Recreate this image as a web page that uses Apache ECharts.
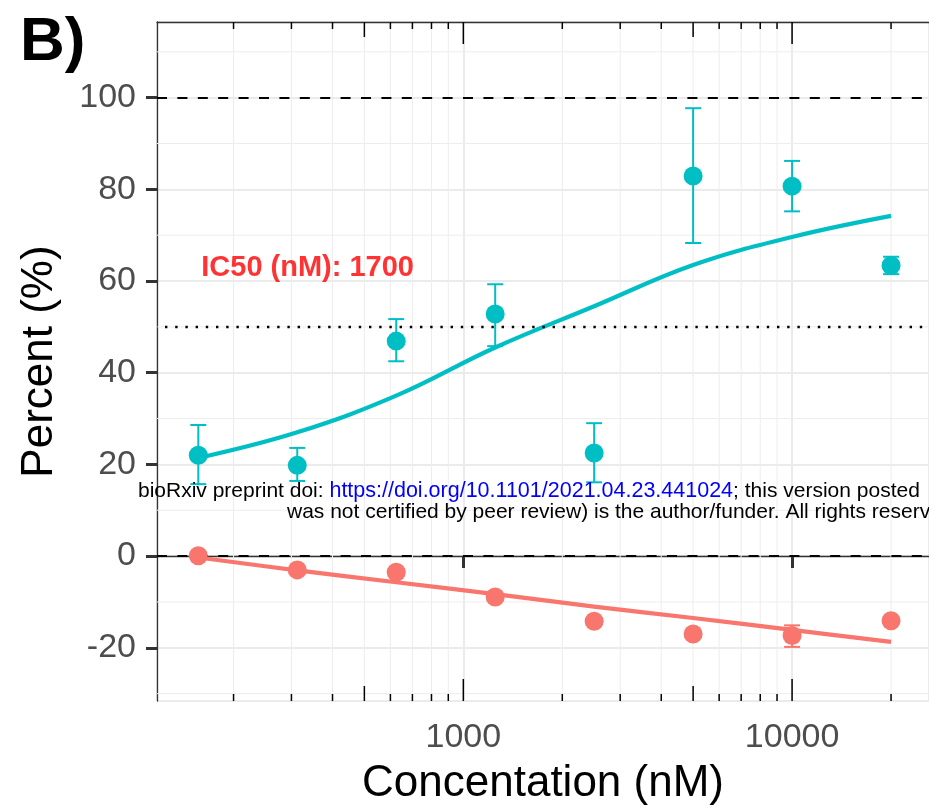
<!DOCTYPE html>
<html>
<head>
<meta charset="utf-8">
<script src="https://cdn.jsdelivr.net/npm/echarts@6/dist/echarts.min.js"></script>
<style>
  html, body { margin: 0; padding: 0; background: #fff; }
  #chart { width: 929px; height: 811px; }
</style>
</head>
<body>
<div id="chart"></div>
<script>
// concentrations (nM)
const concentrations = [156.25, 312.5, 625, 1250, 2500, 5000, 10000, 20000]

// cyan series (mean, error bar low/high, fitted curve)
const cyanMean = [22.0, 19.8, 46.9, 52.8, 22.5, 82.9, 80.7, 63.4]
const cyanLow = [15.7, 16.4, 42.5, 45.8, 16.1, 68.3, 75.2, 61.5]
const cyanHigh = [28.6, 23.6, 51.7, 59.3, 29.0, 97.7, 86.2, 65.3]
const cyanFit = [21.4, 27.0, 35.0, 45.5, 54.5, 63.5, 69.6, 74.2]

// red series
const redMean = [0.1, -3.0, -3.5, -8.9, -14.2, -17.0, -17.3, -14.1]
const redLow = [-0.6, -3.6, -4.2, -9.6, -14.9, -17.6, -19.8, -14.8]
const redHigh = [0.8, -2.4, -2.8, -8.2, -13.5, -16.4, -15.1, -13.4]
const redFit = [-0.3, -3.1, -5.7, -8.3, -11.0, -13.5, -16.1, -18.7]

// axis helpers
const xLabels = [1000, 10000]
const logTicks = [200, 300, 400, 500, 600, 700, 800, 900, 1000,
  2000, 3000, 4000, 5000, 6000, 7000, 8000, 9000, 10000, 20000]
const xMinorGrid = [200, 300, 400, 500, 600, 700, 800, 900,
  2000, 3000, 4000, 5000, 6000, 7000, 8000, 9000, 20000]
const yMinorGrid = [-30, -10, 10, 30, 50, 70, 90, 110]
const refDashed = [0, 100]
const refDotted = [50]

const ic50Label = 'IC50 (nM): 1700'
const ic50Pos = [336, 62.8]

const CYAN = '#00BFC4'
const RED = '#F8766D'
const FONT = 'Liberation Sans, Arial, sans-serif'
const X_MIN = 117
const X_MAX = 26090

const chart = echarts.init(document.getElementById('chart'))

const zip = (xs, ...cols) => xs.map((x, i) => [x, ...cols.map(c => c[i])])

function vLine(params, api) {
  const cs = params.coordSys
  const x = api.coord([api.value(0), 0])[0]
  return {
    type: 'line',
    shape: { x1: x, y1: cs.y, x2: x, y2: cs.y + cs.height },
    style: { stroke: '#ededed', lineWidth: 1 }
  }
}

function hLine(params, api) {
  const cs = params.coordSys
  const y = api.coord([1000, api.value(1)])[1]
  return {
    type: 'line',
    shape: { x1: cs.x, y1: y, x2: cs.x + cs.width, y2: y },
    style: { stroke: '#ededed', lineWidth: 1 }
  }
}

// annotation_logticks style ticks at top and bottom
function logTick(params, api) {
  const cs = params.coordSys
  const v = api.value(0)
  const x = api.coord([v, 0])[0]
  const lead = Math.round(v / Math.pow(10, Math.floor(Math.log10(v) + 1e-9)))
  const len = lead === 1 ? 22 : (lead === 5 ? 15 : 7)
  const style = { stroke: '#000', lineWidth: 1.5 }
  return {
    type: 'group',
    children: [
      { type: 'line', shape: { x1: x, y1: cs.y, x2: x, y2: cs.y + len }, style },
      { type: 'line', shape: { x1: x, y1: cs.y + cs.height - len, x2: x, y2: cs.y + cs.height }, style }
    ]
  }
}

function errorBars(color) {
  return function (params, api) {
    const x = api.value(0)
    const lo = api.coord([x, api.value(1)])
    const hi = api.coord([x, api.value(2)])
    const hw = 8
    const style = { stroke: color, lineWidth: 2 }
    return {
      type: 'group',
      children: [
        { type: 'line', shape: { x1: hi[0], y1: hi[1], x2: lo[0], y2: lo[1] }, style },
        { type: 'line', shape: { x1: hi[0] - hw, y1: hi[1], x2: hi[0] + hw, y2: hi[1] }, style },
        { type: 'line', shape: { x1: lo[0] - hw, y1: lo[1], x2: lo[0] + hw, y2: lo[1] }, style }
      ]
    }
  }
}

const option = {
  animation: false,
  backgroundColor: '#fff',
  grid: { left: 157, top: 22, right: 0, bottom: 109 },
  xAxis: [
    {
      type: 'log',
      logBase: 10,
      min: X_MIN,
      max: X_MAX,
      name: 'Concentation (nM)',
      nameLocation: 'middle',
      nameGap: 61,
      nameTextStyle: { fontSize: 44, color: '#000', fontFamily: FONT },
      axisLine: { lineStyle: { color: '#333', width: 1.3 } },
      axisTick: { length: 12, lineStyle: { color: '#333', width: 3 } },
      axisLabel: {
        fontSize: 34, color: '#4d4d4d', fontFamily: FONT, margin: 20,
        showMinLabel: false, showMaxLabel: false,
        formatter: v => {
          const r = Math.round(v)
          return xLabels.includes(r) ? String(r) : ''
        }
      },
      splitLine: { show: true, lineStyle: { color: '#ebebeb', width: 2 } }
    },
    {
      // top panel border
      type: 'log',
      logBase: 10,
      min: X_MIN,
      max: X_MAX,
      position: 'top',
      axisLine: { show: true, lineStyle: { color: '#333', width: 1.3 } },
      axisTick: { show: false },
      axisLabel: { show: false },
      splitLine: { show: false }
    }
  ],
  yAxis: {
    type: 'value',
    min: -31.6,
    max: 116.5,
    splitNumber: 7,
    minInterval: 20,
    maxInterval: 20,
    name: 'Percent (%)',
    nameLocation: 'middle',
    nameGap: 95,
    nameTextStyle: { fontSize: 44, color: '#000', fontFamily: FONT },
    axisLine: { show: true, lineStyle: { color: '#333', width: 1.3 } },
    axisTick: { show: true, length: 11, lineStyle: { color: '#333', width: 3 } },
    axisLabel: {
      fontSize: 34, color: '#4d4d4d', fontFamily: FONT, margin: 21,
      showMinLabel: false, showMaxLabel: false
    },
    splitLine: { show: true, lineStyle: { color: '#ebebeb', width: 2 } }
  },
  series: [
    {
      name: 'xMinor', type: 'custom', z: 1, silent: true, clip: false,
      renderItem: vLine, data: xMinorGrid.map(v => [v, 0])
    },
    {
      name: 'yMinor', type: 'custom', z: 1, silent: true, clip: false,
      renderItem: hLine, data: yMinorGrid.map(v => [1000, v])
    },
    {
      name: 'refLines', type: 'line', z: 2, silent: true, data: [],
      markLine: {
        silent: true, symbol: 'none', label: { show: false },
        data: [
          ...refDashed.map(v => ({ yAxis: v, lineStyle: { color: '#000', width: 2, type: [10, 10.4] } })),
          ...refDotted.map(v => ({ yAxis: v, lineStyle: { color: '#000', width: 2.4, type: [2.4, 7.8], dashOffset: -8 } }))
        ]
      }
    },
    {
      name: 'cyanFit', type: 'line', z: 3, smooth: 0.4, symbol: 'none',
      lineStyle: { color: CYAN, width: 4.2 },
      data: zip(concentrations, cyanFit)
    },
    {
      name: 'redFit', type: 'line', z: 3, smooth: 0.4, symbol: 'none',
      lineStyle: { color: RED, width: 4.2 },
      data: zip(concentrations, redFit)
    },
    {
      name: 'cyanErr', type: 'custom', z: 4, renderItem: errorBars(CYAN),
      encode: { x: 0, y: [1, 2] },
      data: zip(concentrations, cyanLow, cyanHigh)
    },
    {
      name: 'redErr', type: 'custom', z: 4, renderItem: errorBars(RED),
      encode: { x: 0, y: [1, 2] },
      data: zip(concentrations, redLow, redHigh)
    },
    {
      name: 'cyan', type: 'scatter', z: 5, symbolSize: 19,
      itemStyle: { color: CYAN, opacity: 1 },
      data: zip(concentrations, cyanMean)
    },
    {
      name: 'red', type: 'scatter', z: 5, symbolSize: 19,
      itemStyle: { color: RED, opacity: 1 },
      data: zip(concentrations, redMean)
    },
    {
      name: 'logticks', type: 'custom', z: 6, silent: true, clip: false,
      renderItem: logTick, data: logTicks.map(v => [v, 0])
    },
    {
      name: 'ic50', type: 'scatter', z: 6, symbolSize: 0, silent: true,
      label: {
        show: true, position: 'inside', formatter: ic50Label,
        color: '#FF0000', fontWeight: 'bold', fontSize: 29, fontFamily: FONT
      },
      data: [ic50Pos]
    }
  ],
  graphic: [
    {
      type: 'text', left: 20, top: 12, z: 100,
      style: { text: 'B)', font: 'bold 62px ' + FONT, fill: '#000' }
    },
    {
      type: 'text', x: 138, y: 491, z: 100,
      style: {
        text: '{a|bioRxiv preprint doi: }{b|https://doi.org/10.1101/2021.04.23.441024}{a|; this version posted}',
        verticalAlign: 'middle',
        rich: {
          a: { fontSize: 21, fontFamily: FONT, fill: '#000', color: '#000' },
          b: { fontSize: 21.5, fontFamily: FONT, fill: '#0000FF', color: '#0000FF' }
        }
      }
    },
    {
      type: 'text', x: 287, y: 512, z: 100,
      style: {
        text: 'was not certified by peer review) is the author/funder. All rights reserved.',
        verticalAlign: 'middle',
        font: '21px ' + FONT, fill: '#000'
      }
    }
  ]
}

chart.setOption(option)
</script>
</body>
</html>
